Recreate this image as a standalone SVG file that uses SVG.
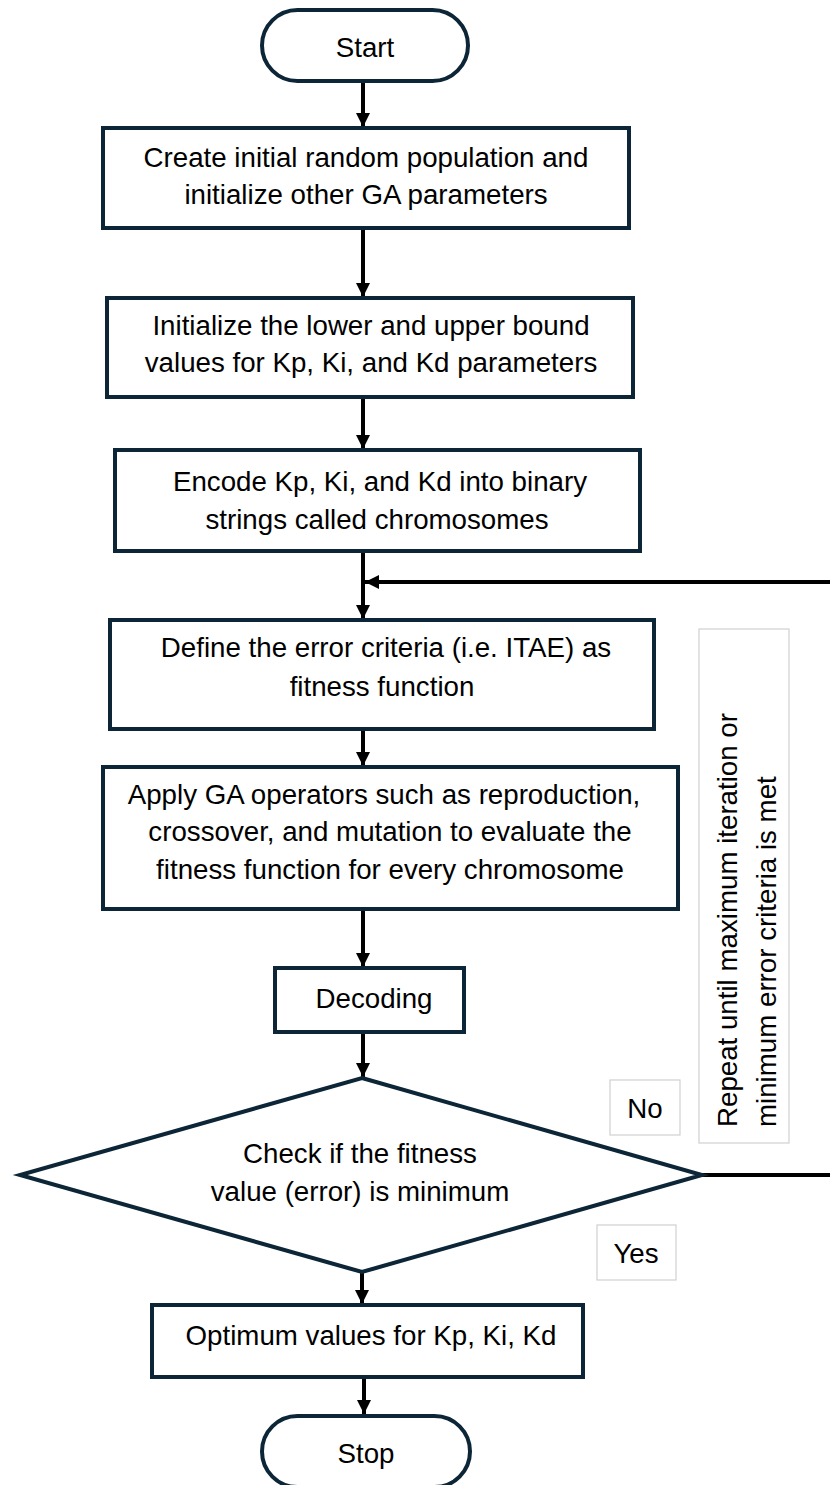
<svg xmlns="http://www.w3.org/2000/svg" width="830" height="1485" viewBox="0 0 830 1485">
  <defs>
    <marker id="arrow" viewBox="0 0 10 10" refX="10" refY="5" markerWidth="3.6" markerHeight="3.6" orient="auto" markerUnits="strokeWidth">
      <path d="M0,0 L10,5 L0,10 Z" fill="#000"/>
    </marker>
    <style>
      .shape { fill: #fff; stroke: #0c2637; stroke-width: 4; }
      .note { fill: #fff; stroke: #d0d0d0; stroke-width: 1.2; }
      .lbl { font-family: "Liberation Sans", Arial, sans-serif; font-size: 27.7px; fill: #000; text-anchor: middle; }
      .conn { stroke: #000; stroke-width: 4; fill: none; }
    </style>
  </defs>
  <rect width="830" height="1485" fill="#fff"/>

  <!-- connectors -->
  <g id="connectors">
    <line class="conn" x1="363" y1="82" x2="363" y2="127" marker-end="url(#arrow)"/>
    <line class="conn" x1="363" y1="229" x2="363" y2="297" marker-end="url(#arrow)"/>
    <line class="conn" x1="363" y1="398" x2="363" y2="449" marker-end="url(#arrow)"/>
    <line class="conn" x1="363" y1="552" x2="363" y2="619" marker-end="url(#arrow)"/>
    <line class="conn" x1="830" y1="582" x2="365" y2="582" marker-end="url(#arrow)"/>
    <line class="conn" x1="363" y1="730" x2="363" y2="766" marker-end="url(#arrow)"/>
    <line class="conn" x1="363" y1="910" x2="363" y2="967" marker-end="url(#arrow)"/>
    <line class="conn" x1="363" y1="1033" x2="363" y2="1077" marker-end="url(#arrow)"/>
    <line class="conn" x1="702" y1="1175" x2="830" y2="1175"/>
    <line class="conn" x1="362" y1="1272" x2="362" y2="1304" marker-end="url(#arrow)"/>
    <line class="conn" x1="364" y1="1378" x2="364" y2="1414" marker-end="url(#arrow)"/>
  </g>

  <g id="start">
    <rect class="shape" x="262" y="10" width="206" height="71" rx="35.5"/>
    <text class="lbl" x="365" y="57">Start</text>
  </g>

  <g id="init-population">
    <rect class="shape" x="103" y="128" width="526" height="100"/>
    <text class="lbl" x="366" y="167">Create initial random population and</text>
    <text class="lbl" x="366" y="204">initialize other GA parameters</text>
  </g>

  <g id="init-bounds">
    <rect class="shape" x="107" y="298" width="526" height="99"/>
    <text class="lbl" x="371" y="335">Initialize the lower and upper bound</text>
    <text class="lbl" x="371" y="372">values for Kp, Ki, and Kd parameters</text>
  </g>

  <g id="encode">
    <rect class="shape" x="115" y="450" width="525" height="101"/>
    <text class="lbl" x="380" y="491">Encode Kp, Ki, and Kd into binary</text>
    <text class="lbl" x="377" y="529">strings called chromosomes</text>
  </g>

  <g id="fitness-def">
    <rect class="shape" x="110" y="620" width="544" height="109"/>
    <text class="lbl" x="386" y="657">Define the error criteria (i.e. ITAE) as</text>
    <text class="lbl" x="382" y="696">fitness function</text>
  </g>

  <g id="ga-operators">
    <rect class="shape" x="103" y="767" width="575" height="142"/>
    <text class="lbl" x="384" y="804">Apply GA operators such as reproduction,</text>
    <text class="lbl" x="390" y="841">crossover, and mutation to evaluate the</text>
    <text class="lbl" x="390" y="879">fitness function for every chromosome</text>
  </g>

  <g id="decoding">
    <rect class="shape" x="275" y="968" width="189" height="64"/>
    <text class="lbl" x="374" y="1008">Decoding</text>
  </g>

  <g id="check">
    <polygon class="shape" points="362,1078 702,1175 362,1272 20,1175"/>
    <text class="lbl" x="360" y="1163">Check if the fitness</text>
    <text class="lbl" x="360" y="1201">value (error) is minimum</text>
  </g>

  <g id="label-no">
    <rect class="note" x="610" y="1080" width="70" height="55"/>
    <text class="lbl" x="645" y="1118">No</text>
  </g>

  <g id="label-yes">
    <rect class="note" x="597" y="1225" width="79" height="55"/>
    <text class="lbl" x="636" y="1263">Yes</text>
  </g>

  <g id="label-repeat">
    <rect class="note" x="699" y="629" width="90" height="514"/>
    <text class="lbl" style="text-anchor:start" transform="translate(737,1127) rotate(-90)">
      <tspan x="0" y="0">Repeat until maximum iteration or</tspan>
      <tspan x="0" y="39">minimum error criteria is met</tspan>
    </text>
  </g>

  <g id="optimum">
    <rect class="shape" x="152" y="1305" width="431" height="72"/>
    <text class="lbl" x="371" y="1345">Optimum values for Kp, Ki, Kd</text>
  </g>

  <g id="stop">
    <rect class="shape" x="262" y="1416" width="208" height="71" rx="35.5"/>
    <text class="lbl" x="366" y="1463">Stop</text>
  </g>
</svg>
